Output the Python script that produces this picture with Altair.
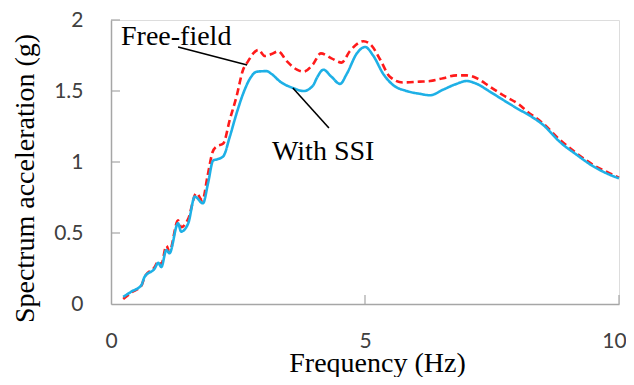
import altair as alt
import pandas as pd

# Frequencies (Hz) and spectral accelerations (g)
ssi_f = [0.24, 0.40, 0.60, 0.66, 0.86, 0.93, 0.99, 1.09, 1.15, 1.32,
         1.38, 1.52, 1.65, 1.81, 1.91, 2.01, 2.10, 2.21, 2.34, 2.47,
         2.60, 2.74, 2.87, 3.06, 3.16, 3.33, 3.59, 3.79, 3.98, 4.05,
         4.18, 4.34, 4.51, 4.64, 4.84, 5.00, 5.16, 5.36, 5.56, 5.82,
         6.08, 6.28, 6.54, 6.80, 7.00, 7.20, 7.46, 7.72, 8.05, 8.18,
         8.51, 8.84, 9.17, 9.49, 9.82, 10.0]
ssi_a = [0.05, 0.087, 0.134, 0.19, 0.25, 0.29, 0.26, 0.38, 0.357, 0.568,
         0.51, 0.568, 0.756, 0.709, 0.85, 1.01, 1.02, 1.04, 1.18, 1.34,
         1.48, 1.59, 1.636, 1.64, 1.62, 1.566, 1.52, 1.50, 1.54, 1.59,
         1.65, 1.60, 1.55, 1.62, 1.765, 1.81, 1.75, 1.62, 1.54, 1.50,
         1.48, 1.47, 1.51, 1.55, 1.57, 1.55, 1.495, 1.437, 1.366, 1.34,
         1.26, 1.14, 1.05, 0.97, 0.91, 0.885]

ff_f = [0.24, 0.40, 0.60, 0.66, 0.86, 0.93, 0.99, 1.09, 1.15, 1.32,
        1.38, 1.52, 1.68, 1.80, 1.90, 2.00, 2.08, 2.21, 2.34, 2.47,
        2.60, 2.70, 2.80, 2.90, 3.03, 3.16, 3.29, 3.46, 3.66, 3.79,
        3.98, 4.13, 4.34, 4.54, 4.70, 4.97, 5.13, 5.30, 5.49, 5.75,
        6.08, 6.28, 6.54, 6.80, 7.00, 7.20, 7.46, 7.72, 8.05, 8.18,
        8.51, 8.84, 9.17, 9.49, 9.82, 10.0]
ff_a = [0.035, 0.08, 0.13, 0.19, 0.26, 0.30, 0.28, 0.41, 0.37, 0.59,
        0.54, 0.60, 0.78, 0.73, 0.90, 1.07, 1.11, 1.13, 1.30, 1.46,
        1.65, 1.71, 1.765, 1.79, 1.746, 1.76, 1.78, 1.71, 1.65, 1.636,
        1.69, 1.765, 1.73, 1.70, 1.78, 1.85, 1.82, 1.72, 1.60, 1.56,
        1.566, 1.57, 1.59, 1.61, 1.61, 1.59, 1.53, 1.47, 1.40, 1.36,
        1.27, 1.155, 1.06, 0.98, 0.92, 0.89]

x_ticks = [0, 5, 10]
y_ticks = [0, 0.5, 1, 1.5, 2]

# annotation labels and leader lines (data coordinates)
ann_text = ["Free-field", "With SSI"]
ann_x = [0.197, 3.17]
ann_y = [1.824, 1.014]
lead_x1 = [1.32, 3.58]
lead_y1 = [1.810, 1.521]
lead_x2 = [2.68, 4.29]
lead_y2 = [1.683, 1.239]

df = pd.concat([
    pd.DataFrame({"f": ff_f, "a": ff_a, "s": "Free-field", "o": 0}),
    pd.DataFrame({"f": ssi_f, "a": ssi_a, "s": "With SSI", "o": 1}),
])

W, H = 508, 284
GRAY = "#a6a6a6"

xscale = alt.Scale(domain=[0, 10], nice=False, zero=False)
yscale = alt.Scale(domain=[0, 2], nice=False)

xaxis = alt.Axis(values=x_ticks, labelExpr="datum.value + ''", ticks=False,
                 grid=False, domainColor=GRAY, domainWidth=1.5,
                 labelFont="Lato", labelFontSize=21, labelColor="#404040",
                 labelPadding=26, labelFlush=False,
                 labelOffset={"condition": {"test": "datum.value == 10", "value": -5},
                              "value": 0},
                 title="Frequency (Hz)", titleFont="Liberation Serif",
                 titleFontSize=28, titleFontWeight="normal", titleColor="black",
                 titleX=266, titleY=67, titleBaseline="alphabetic",
                 titleAlign="center")
yaxis = alt.Axis(values=y_ticks, labelExpr="datum.value + ''", ticks=False,
                 grid=False, domainColor=GRAY, domainWidth=1.5,
                 labelFont="Lato", labelFontSize=21, labelColor="#404040",
                 labelPadding=28,
                 title="Spectrum acceleration (g)", titleFont="Liberation Serif",
                 titleFontSize=28, titleFontWeight="normal", titleColor="black",
                 titleX=-86, titleY=158, titleAngle=270,
                 titleBaseline="middle", titleAlign="center")

base_x = alt.X("f:Q", scale=xscale, axis=xaxis)
base_y = alt.Y("a:Q", scale=yscale, axis=yaxis)

lines = alt.Chart(df).mark_line(strokeWidth=2.6, interpolate="monotone").encode(
    x=base_x,
    y=base_y,
    color=alt.Color("s:N", scale=alt.Scale(domain=["Free-field", "With SSI"],
                                           range=["#ff1a1a", "#1eb0e6"]),
                    legend=None),
    strokeDash=alt.StrokeDash("s:N", scale=alt.Scale(domain=["Free-field", "With SSI"],
                                                     range=[[7, 4], [1, 0]]),
                              legend=None),
    detail="s:N",
    order="o:Q",
)

ytick_df = pd.DataFrame({"v": y_ticks[1:]})
yticks = alt.Chart(ytick_df).mark_rule(color=GRAY, strokeWidth=1.2).encode(
    y=alt.Y("v:Q", scale=yscale), x=alt.value(0), x2=alt.value(9))
xtick_df = pd.DataFrame({"v": x_ticks[1:]})
xticks = alt.Chart(xtick_df).mark_rule(color=GRAY, strokeWidth=1.2).encode(
    x=alt.X("v:Q", scale=xscale), y=alt.value(H), y2=alt.value(H - 9))

ann_df = pd.DataFrame({"t": ann_text, "x": ann_x, "y": ann_y})
texts = alt.Chart(ann_df).mark_text(font="Liberation Serif", fontSize=28,
                                    align="left", baseline="alphabetic",
                                    color="black").encode(
    x=alt.X("x:Q", scale=xscale), y=alt.Y("y:Q", scale=yscale), text="t:N")

lead_df = pd.DataFrame({"x1": lead_x1, "y1": lead_y1, "x2": lead_x2, "y2": lead_y2})
leads = alt.Chart(lead_df).mark_rule(color="black", strokeWidth=1.6).encode(
    x=alt.X("x1:Q", scale=xscale), y=alt.Y("y1:Q", scale=yscale),
    x2="x2:Q", y2="y2:Q")

chart = alt.layer(lines, yticks, xticks, leads, texts).properties(
    width=W, height=H,
    autosize=alt.AutoSizeParams(type="none"),
    padding={"left": 103, "top": 12, "right": 7, "bottom": 73},
).configure_view(stroke=None).configure(background="white")

chart.save("out.html", embed_options={"renderer": "svg", "actions": False})
